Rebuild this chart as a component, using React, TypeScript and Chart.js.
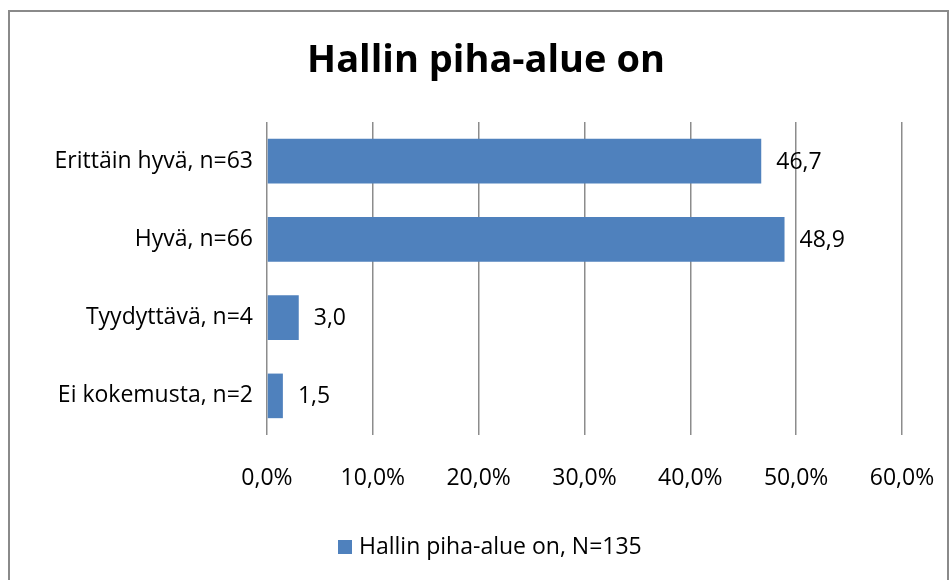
import React, { useEffect, useRef } from "react";
import { Chart, registerables } from "chart.js";

Chart.register(...registerables);

const categories = ["Erittäin hyvä, n=63", "Hyvä, n=66", "Tyydyttävä, n=4", "Ei kokemusta, n=2"];
const values = [46.7, 48.9, 3.0, 1.5];
const seriesLabel = "Hallin piha-alue on, N=135";
const titleText = "Hallin piha-alue on";
const xTicks = [0, 10, 20, 30, 40, 50, 60];

const FONT = "Open Sans";
const FS = 23;
const BAR = "#4F81BD";
const fmt = (v: number) => v.toFixed(1).replace(".", ",");

export default function App() {
  const ref = useRef<HTMLCanvasElement>(null);
  useEffect(() => {
    if (!ref.current) return;
    const framePlugin = {
      id: "frame",
      beforeDraw(chart: any) {
        const ctx = chart.ctx;
        ctx.save();
        ctx.fillStyle = "#fff";
        ctx.fillRect(0, 0, chart.width, chart.height);
        ctx.strokeStyle = "#8a8a8a";
        ctx.lineWidth = 2;
        ctx.strokeRect(9, 11, 939, 600);
        ctx.restore();
      },
      afterDatasetsDraw(chart: any) {
        const ctx = chart.ctx;
        const meta = chart.getDatasetMeta(0);
        ctx.save();
        ctx.font = `${FS}px "${FONT}"`;
        ctx.fillStyle = "#000";
        ctx.textAlign = "left";
        ctx.textBaseline = "middle";
        meta.data.forEach((bar: any, i: number) => {
          ctx.fillText(fmt(values[i]), bar.x + 15, bar.y + 1);
        });
        // legend
        const ly = 547;
        ctx.fillStyle = BAR;
        ctx.fillRect(338, ly - 7, 14, 14);
        ctx.fillStyle = "#000";
        ctx.fillText(seriesLabel, 359, ly);
        ctx.restore();
      },
    };
    const chart = new Chart(ref.current, {
      type: "bar",
      data: {
        labels: categories,
        datasets: [
          {
            label: seriesLabel,
            data: values,
            backgroundColor: BAR,
            categoryPercentage: 1,
            barPercentage: 0.57,
          },
        ],
      },
      options: {
        indexAxis: "y",
        responsive: false,
        animation: false,
        layout: { padding: { left: 22, right: 0, top: 0, bottom: 0 } },
        plugins: {
          legend: { display: false },
          tooltip: { enabled: false },
          title: {
            display: true,
            text: titleText,
            color: "#000",
            font: { family: FONT, size: 38, weight: "bold", lineHeight: 1.2 },
            padding: { top: 38, bottom: 38.4 },
          },
        },
        scales: {
          x: {
            min: 0,
            max: 60,
            afterBuildTicks(scale: any) {
              scale.ticks = xTicks.map((v) => ({ value: v }));
            },
            afterFit(scale: any) {
              scale.height = 145;
            },
            grid: {
              color: "#8c8c8c",
              lineWidth: 1.5,
              drawTicks: true,
              tickLength: 27,
              tickColor: "rgba(0,0,0,0)",
            },
            border: { display: false },
            ticks: {
              padding: 3,
              color: "#000",
              font: { family: FONT, size: FS },
              callback: (v: any) => fmt(Number(v)) + "%",
            },
          },
          y: {
            afterFit(scale: any) {
              scale.width = 245;
            },
            grid: { display: false, drawTicks: false },
            border: { display: false },
            ticks: {
              padding: 14,
              color: "#000",
              font: { family: FONT, size: FS },
            },
          },
          yR: {
            axis: "y",
            type: "linear",
            position: "right",
            display: true,
            grid: { display: false, drawTicks: false },
            border: { display: false },
            ticks: { display: false },
            afterFit(scale: any) {
              scale.width = 48;
            },
          },
        },
      },
      plugins: [framePlugin],
    });
    return () => chart.destroy();
  }, []);
  return (
    <div style={{ position: "fixed", left: 0, top: 0, width: 950, height: 580 }}>
      <canvas ref={ref} width={950} height={580} />
    </div>
  );
}
